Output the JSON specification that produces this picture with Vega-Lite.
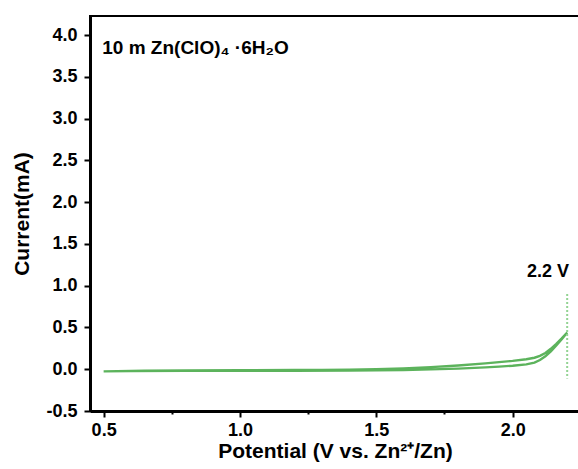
{
  "$schema": "https://vega.github.io/schema/vega-lite/v6.json",
  "width": 490,
  "height": 395,
  "autosize": "none",
  "padding": {"left": 90, "top": 16, "right": 0, "bottom": 58},
  "background": "white",
  "config": {
    "font": "Liberation Sans",
    "view": {"stroke": "black", "strokeWidth": 2},
    "axis": {"grid": false}
  },
  "datasets": {
    "cv": [
      {"i": 1, "potential": 0.5, "current": -0.025},
      {"i": 2, "potential": 0.6, "current": -0.022},
      {"i": 3, "potential": 0.8, "current": -0.02},
      {"i": 4, "potential": 1.0, "current": -0.02},
      {"i": 5, "potential": 1.2, "current": -0.02},
      {"i": 6, "potential": 1.4, "current": -0.016},
      {"i": 7, "potential": 1.6, "current": -0.01},
      {"i": 8, "potential": 1.7, "current": -0.002},
      {"i": 9, "potential": 1.8, "current": 0.008},
      {"i": 10, "potential": 1.9, "current": 0.022},
      {"i": 11, "potential": 1.95, "current": 0.032},
      {"i": 12, "potential": 2.0, "current": 0.042},
      {"i": 13, "potential": 2.05, "current": 0.058},
      {"i": 14, "potential": 2.08, "current": 0.08},
      {"i": 15, "potential": 2.1, "current": 0.11},
      {"i": 16, "potential": 2.12, "current": 0.155},
      {"i": 17, "potential": 2.14, "current": 0.215},
      {"i": 18, "potential": 2.16, "current": 0.285},
      {"i": 19, "potential": 2.18, "current": 0.36},
      {"i": 20, "potential": 2.2, "current": 0.44},
      {"i": 21, "potential": 2.18, "current": 0.37},
      {"i": 22, "potential": 2.16, "current": 0.305},
      {"i": 23, "potential": 2.14, "current": 0.245},
      {"i": 24, "potential": 2.12, "current": 0.195},
      {"i": 25, "potential": 2.1, "current": 0.16},
      {"i": 26, "potential": 2.08, "current": 0.138},
      {"i": 27, "potential": 2.05, "current": 0.12},
      {"i": 28, "potential": 2.0, "current": 0.1},
      {"i": 29, "potential": 1.95, "current": 0.085},
      {"i": 30, "potential": 1.9, "current": 0.07},
      {"i": 31, "potential": 1.8, "current": 0.045},
      {"i": 32, "potential": 1.7, "current": 0.025},
      {"i": 33, "potential": 1.6, "current": 0.01},
      {"i": 34, "potential": 1.5, "current": 0.0},
      {"i": 35, "potential": 1.4, "current": -0.005},
      {"i": 36, "potential": 1.3, "current": -0.008},
      {"i": 37, "potential": 1.2, "current": -0.008},
      {"i": 38, "potential": 1.0, "current": -0.012},
      {"i": 39, "potential": 0.8, "current": -0.015},
      {"i": 40, "potential": 0.65, "current": -0.016},
      {"i": 41, "potential": 0.5, "current": -0.025}
    ],
    "marker": [
      {"potential": 2.2, "top": 0.9, "bottom": -0.11}
    ],
    "heading": [
      {"potential": 0.495, "current": 3.78, "label": "10 m Zn(ClO)₄ ·6H₂O"}
    ],
    "cutoff": [
      {"potential": 2.13, "current": 1.1, "label": "2.2 V"}
    ]
  },
  "layer": [
    {
      "data": {"name": "cv"},
      "mark": {"type": "line", "color": "#5cb35c", "strokeWidth": 2.4, "clip": true},
      "encoding": {
        "x": {
          "field": "potential", "type": "quantitative",
          "scale": {"domain": [0.45, 2.247], "nice": false, "zero": false},
          "axis": {
            "values": [0.5, 0.75, 1.0, 1.25, 1.5, 1.75, 2.0],
            "labelExpr": "abs(datum.value * 2 - round(datum.value * 2)) < 0.001 ? replace(format(datum.value, '.1f'), '−', '-') : ''",
            "title": "Potential (V vs. Zn²⁺/Zn)",
            "titleFont": "Liberation Sans", "titleFontSize": 21, "titleFontWeight": "bold", "titleColor": "black",
            "titlePadding": 1,
            "labelFont": "Liberation Sans", "labelFontSize": 18, "labelFontWeight": "bold", "labelColor": "black",
            "labelPadding": 4,
            "domainColor": "black", "domainWidth": 3,
            "tickColor": "black", "tickWidth": 2,
            "tickSize": {"condition": {"test": "abs(datum.value * 2 - round(datum.value * 2)) < 0.001", "value": 6}, "value": 3}
          }
        },
        "y": {
          "field": "current", "type": "quantitative",
          "scale": {"domain": [-0.5, 4.23], "nice": false, "zero": false},
          "axis": {
            "values": [-0.5, -0.25, 0, 0.25, 0.5, 0.75, 1, 1.25, 1.5, 1.75, 2, 2.25, 2.5, 2.75, 3, 3.25, 3.5, 3.75, 4],
            "labelExpr": "abs(datum.value * 2 - round(datum.value * 2)) < 0.001 ? replace(format(datum.value, '.1f'), '−', '-') : ''",
            "title": "Current(mA)",
            "titleFont": "Liberation Sans", "titleFontSize": 21, "titleFontWeight": "bold", "titleColor": "black",
            "titlePadding": 13,
            "labelFont": "Liberation Sans", "labelFontSize": 18, "labelFontWeight": "bold", "labelColor": "black",
            "labelPadding": 7,
            "domainColor": "black", "domainWidth": 3,
            "tickColor": "black", "tickWidth": 2,
            "tickSize": {"condition": {"test": "abs(datum.value * 2 - round(datum.value * 2)) < 0.001", "value": 6}, "value": 3}
          }
        },
        "order": {"field": "i", "type": "quantitative"}
      }
    },
    {
      "data": {"name": "marker"},
      "mark": {"type": "rule", "color": "#93d393", "strokeWidth": 2, "strokeDash": [2, 2]},
      "encoding": {
        "x": {"field": "potential", "type": "quantitative"},
        "y": {"field": "top", "type": "quantitative"},
        "y2": {"field": "bottom"}
      }
    },
    {
      "data": {"name": "heading"},
      "mark": {"type": "text", "font": "Liberation Sans", "fontWeight": "bold", "fontSize": 19, "color": "black", "baseline": "alphabetic", "align": "left"},
      "encoding": {
        "x": {"field": "potential", "type": "quantitative"},
        "y": {"field": "current", "type": "quantitative"},
        "text": {"field": "label"}
      }
    },
    {
      "data": {"name": "cutoff"},
      "mark": {"type": "text", "font": "Liberation Sans", "fontWeight": "bold", "fontSize": 18, "color": "black", "baseline": "alphabetic", "align": "center"},
      "encoding": {
        "x": {"field": "potential", "type": "quantitative"},
        "y": {"field": "current", "type": "quantitative"},
        "text": {"field": "label"}
      }
    }
  ]
}
